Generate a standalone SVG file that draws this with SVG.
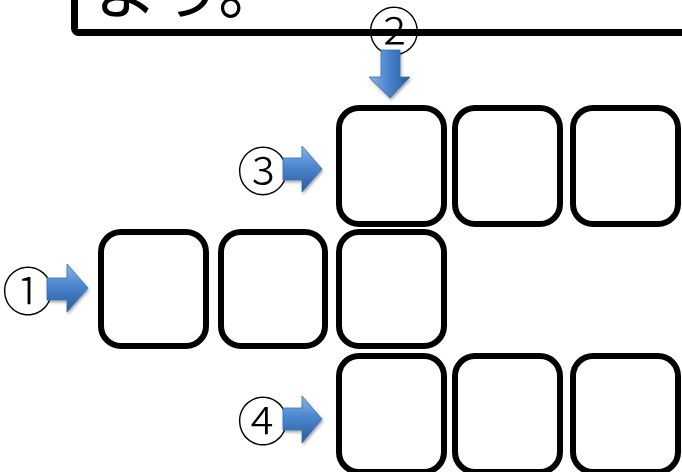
<svg xmlns="http://www.w3.org/2000/svg" width="682" height="472" viewBox="0 0 682 472">
<defs>
<linearGradient id="gh" x1="0" y1="0" x2="0" y2="1">
<stop offset="0" stop-color="#8db4e6"/>
<stop offset="0.45" stop-color="#4a86cf"/>
<stop offset="1" stop-color="#2a5a9a"/>
</linearGradient>
<linearGradient id="gv" x1="0" y1="0" x2="1" y2="0">
<stop offset="0" stop-color="#8db4e6"/>
<stop offset="0.45" stop-color="#4a86cf"/>
<stop offset="1" stop-color="#2a5a9a"/>
</linearGradient>
<filter id="sh" x="-20%" y="-20%" width="140%" height="140%">
<feGaussianBlur in="SourceAlpha" stdDeviation="1.5"/>
<feOffset dx="1" dy="2" result="b"/>
<feComponentTransfer><feFuncA type="linear" slope="0.35"/></feComponentTransfer>
<feMerge><feMergeNode/><feMergeNode in="SourceGraphic"/></feMerge>
</filter>
</defs>
<style>
.box{fill:#fff;stroke:#000;stroke-width:6}
.num{font-family:"Noto Sans CJK JP","Noto Sans",sans-serif;font-size:52px;font-weight:300;fill:#000;text-anchor:middle}
.arrow{stroke:#3a6fb0;stroke-width:0.8;filter:url(#sh)}
</style>
<rect width="682" height="472" fill="#fff"/>
<g id="header">
<rect x="74.5" y="-60" width="700" height="92.5" rx="4" fill="#fff" stroke="#000" stroke-width="7"/>
<text x="94" y="13" font-family="Noto Sans CJK JP,sans-serif" font-size="64" fill="#000">よう。</text>
</g>
<g id="row1">
<rect id="sq-r1c3" class="box" x="339" y="108" width="105" height="116" rx="20"/>
<rect id="sq-r1c4" class="box" x="455" y="108" width="105" height="116" rx="20"/>
<rect id="sq-r1c5" class="box" x="573" y="108" width="105" height="116" rx="20"/>
</g>
<g id="row2">
<rect id="sq-r2c1" class="box" x="101" y="232" width="105" height="114" rx="20"/>
<rect id="sq-r2c2" class="box" x="221" y="232" width="104" height="114" rx="20"/>
<rect id="sq-r2c3" class="box" x="339" y="232" width="105" height="114" rx="20"/>
</g>
<g id="row3">
<rect id="sq-r3c3" class="box" x="339" y="356" width="105" height="116" rx="20"/>
<rect id="sq-r3c4" class="box" x="455" y="356" width="105" height="116" rx="20"/>
<rect id="sq-r3c5" class="box" x="573" y="356" width="105" height="116" rx="20"/>
</g>
<g id="labels">
<text class="num" x="394" y="51">②</text>
<text class="num" x="263" y="191">③</text>
<text class="num" x="28" y="311">①</text>
<text class="num" x="263" y="441">④</text>
</g>
<g id="connectors">
<polygon class="arrow" fill="url(#gv)" points="381,50 400,50 400,77 410,77 390,98 369,77 381,77"/>
<polygon class="arrow" fill="url(#gh)" points="283,158 302,158 302,146 322,169 302,192 302,180 283,180"/>
<polygon class="arrow" fill="url(#gh)" points="47,278 67,278 67,264 88,288 67,312 67,300 47,300"/>
<polygon class="arrow" fill="url(#gh)" points="283,408 302,408 302,396 322,419 302,443 302,430 283,430"/>
</g>
</svg>
